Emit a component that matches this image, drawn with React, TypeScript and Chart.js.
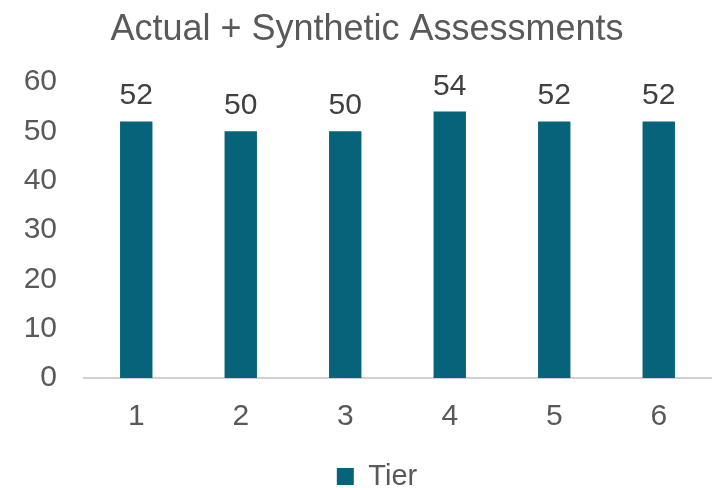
import React, { useEffect, useRef } from "react";
import { Chart, registerables } from "chart.js";

Chart.register(...registerables);

const categories = ["1", "2", "3", "4", "5", "6"];
const tierValues = [52, 50, 50, 54, 52, 52];
const yTicks = [0, 10, 20, 30, 40, 50, 60];
const seriesName = "Tier";
const titleText = "Actual + Synthetic Assessments";

const FONT = "'Liberation Sans', Arial, sans-serif";
const BAR = "#06637A";
const TEXT = "#595959";

const dataLabelPlugin = {
  id: "dataLabelPlugin",
  afterDatasetsDraw(chart: any) {
    const ctx = chart.ctx;
    ctx.save();
    ctx.font = `30px ${FONT}`;
    ctx.fillStyle = "#404040";
    ctx.textAlign = "center";
    ctx.textBaseline = "alphabetic";
    chart.data.datasets.forEach((ds: any, di: number) => {
      const meta = chart.getDatasetMeta(di);
      meta.data.forEach((bar: any, i: number) => {
        ctx.fillText(String(ds.data[i]), bar.x, bar.y - 17);
      });
    });
    ctx.restore();
  },
};

const legendShiftPlugin = {
  id: "legendShift",
  afterLayout(chart: any) {
    if (chart.legend) {
      chart.legend.left += 10;
      chart.legend.right += 10;
    }
  },
};

export default function App() {
  const ref = useRef<HTMLCanvasElement>(null);
  useEffect(() => {
    document.body.style.margin = "0";
    const chart = new Chart(ref.current as HTMLCanvasElement, {
      type: "bar",
      data: {
        labels: categories,
        datasets: [
          {
            label: seriesName,
            data: tierValues,
            backgroundColor: BAR,
            borderWidth: 0,
            categoryPercentage: 1,
            barPercentage: 0.31,
          },
        ],
      },
      options: {
        animation: false,
        responsive: false,
        devicePixelRatio: 1,
        layout: { padding: { left: 23, right: 2, top: 0, bottom: 0 } },
        plugins: {
          title: {
            display: true,
            text: titleText,
            color: TEXT,
            font: { family: FONT, size: 36, weight: "normal" },
            padding: { top: 8, bottom: 30.8 },
          },
          legend: {
            display: true,
            position: "bottom",
            maxHeight: 55,
            labels: {
              color: TEXT,
              font: { family: FONT, size: 29 },
              boxWidth: 17,
              boxHeight: 17,
              padding: 29,
            },
          },
          tooltip: { enabled: false },
        },
        scales: {
          x: {
            grid: { display: false, drawTicks: false },
            border: { display: true, color: "#D0D0D0", width: 2 },
            ticks: {
              color: TEXT,
              font: { family: FONT, size: 30 },
              padding: 21,
            },
            afterFit(scale: any) {
              scale.height = 55;
            },
          },
          y: {
            min: 0,
            max: 60,
            afterBuildTicks(scale: any) {
              scale.ticks = yTicks.map((v) => ({ value: v }));
            },
            grid: { display: false, drawTicks: false },
            border: { display: false },
            ticks: {
              color: TEXT,
              font: { family: FONT, size: 30 },
              padding: 27,
            },
            afterFit(scale: any) {
              scale.width = 61;
            },
          },
        },
      },
      plugins: [dataLabelPlugin, legendShiftPlugin],
    });
    return () => chart.destroy();
  }, []);
  return (
    <div style={{ width: 713, height: 488, background: "#fff" }}>
      <canvas ref={ref} width={713} height={488} />
    </div>
  );
}
